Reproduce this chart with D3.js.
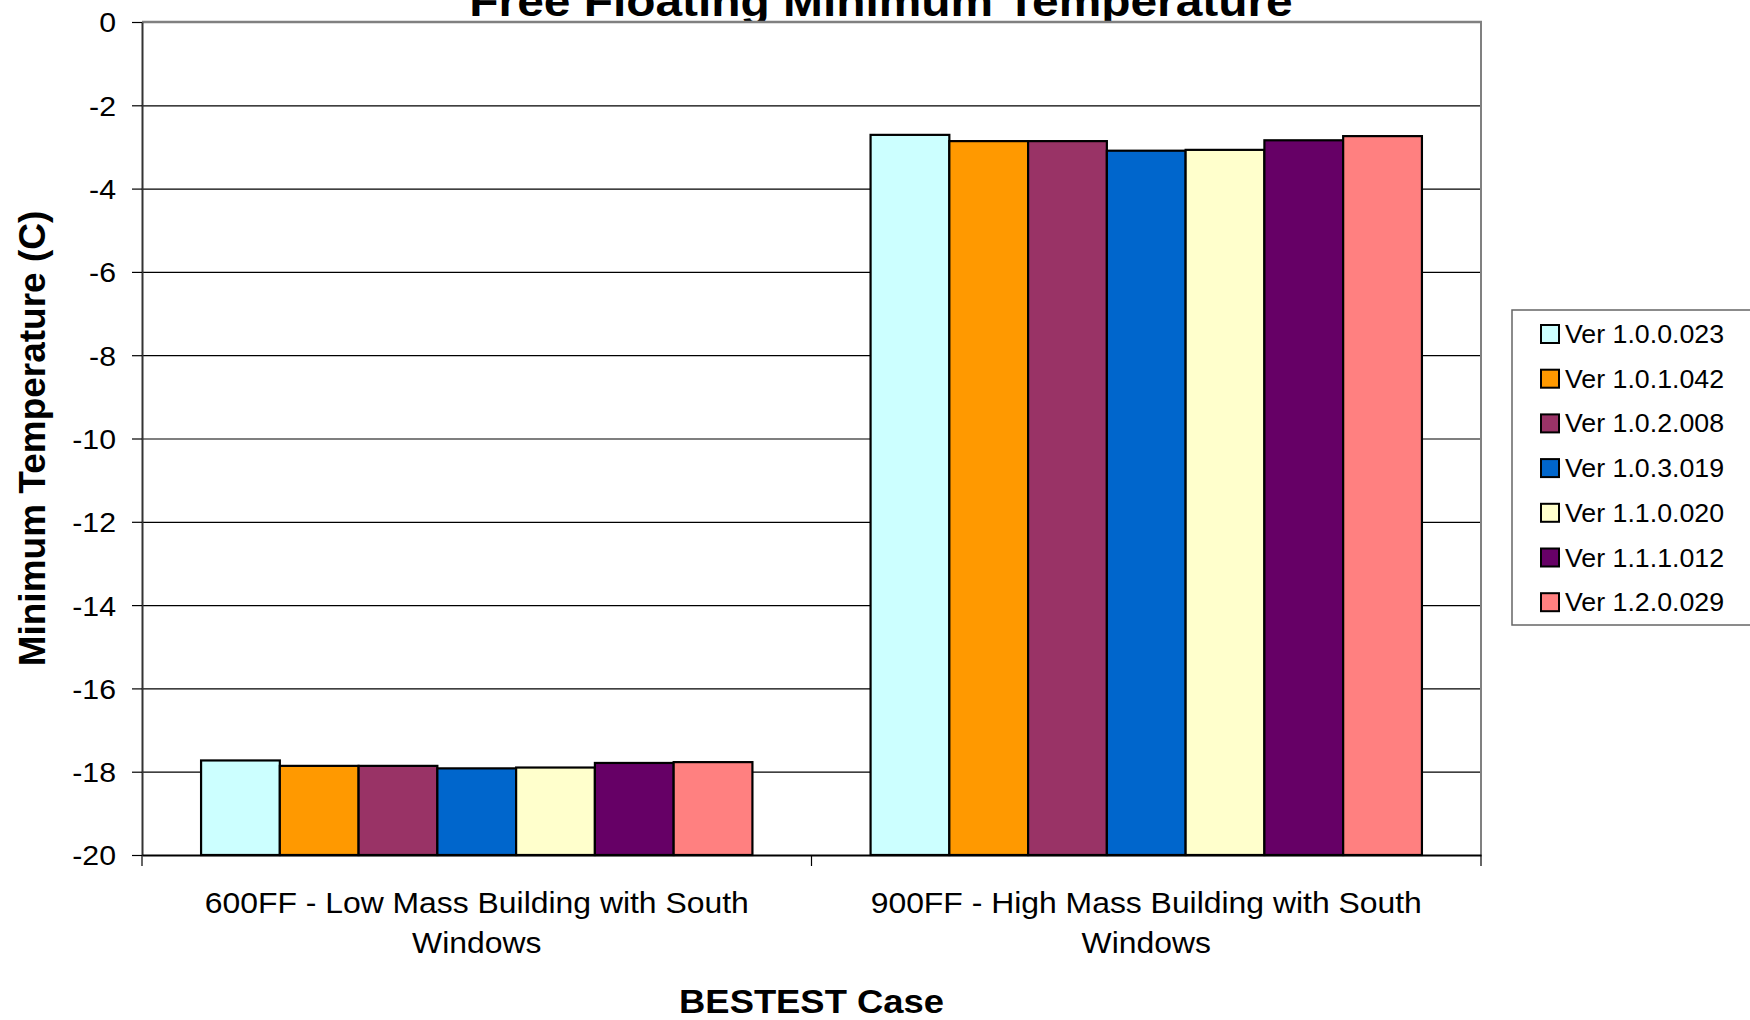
<!DOCTYPE html>
<html>
<head>
<meta charset="utf-8">
<script src="https://cdn.jsdelivr.net/npm/d3@7"></script>
<style>
  html, body { margin: 0; padding: 0; background: #fff; }
  svg { display: block; font-family: "Liberation Sans", Arial, sans-serif; }
</style>
</head>
<body>
<svg id="chart" width="1750" height="1020"></svg>
<script>
const titleText = "Free Floating Minimum Temperature";
const xTitle = "BESTEST Case";
const yTitle = "Minimum Temperature (C)";
const categories = ["600FF", "900FF"];
const categoryLabels = [
  ["600FF - Low Mass Building with South", "Windows"],
  ["900FF - High Mass Building with South", "Windows"]
];
const series = ["Ver 1.0.0.023", "Ver 1.0.1.042", "Ver 1.0.2.008", "Ver 1.0.3.019", "Ver 1.1.0.020", "Ver 1.1.1.012", "Ver 1.2.0.029"];
const colors = ["#CCFFFF", "#FF9900", "#993366", "#0066CC", "#FFFFCC", "#660066", "#FF8080"];
const values600FF = [-17.73, -17.86, -17.86, -17.92, -17.90, -17.79, -17.77];
const values900FF = [-2.71, -2.86, -2.86, -3.09, -3.07, -2.84, -2.74];
const yTicks = [0, -2, -4, -6, -8, -10, -12, -14, -16, -18, -20];

const valuesByCat = { "600FF": values600FF, "900FF": values900FF };

const svg = d3.select("#chart");
const L = 142, R = 1481, T = 22, B = 855;

const x = d3.scaleBand().domain(categories).range([L, R]).paddingInner(0).paddingOuter(0);
const xs = d3.scaleBand().domain(series).range([0, x.bandwidth()]).paddingInner(0).paddingOuter(0.75);
const y = d3.scaleLinear().domain([-20, 0]).range([B, T]);

function stretchedText(parent, tx, ty, sx, txt, opts) {
  const g = parent.append("g").attr("transform", `translate(${tx},${ty}) scale(${sx},1)`);
  const t = g.append("text").attr("x", 0).attr("y", 0)
    .attr("text-anchor", opts.anchor || "middle")
    .attr("font-size", opts.size)
    .attr("font-weight", opts.weight || "normal")
    .attr("fill", "#000")
    .text(txt);
  return t;
}

// chart title (drawn first; the plot area covers its lower part as in the original)
stretchedText(svg, 881, 16, 1.14, titleText, { size: 42, weight: "bold" });

// plot area fill
svg.append("rect").attr("x", L).attr("y", T - 1).attr("width", R - L).attr("height", B - T + 1)
  .attr("fill", "#fff");

// gridlines
svg.append("g").selectAll("line").data(yTicks.filter(d => d !== 0 && d !== -20)).join("line")
  .attr("x1", L).attr("x2", R).attr("y1", d => y(d) + 0.5).attr("y2", d => y(d) + 0.5)
  .attr("stroke", "#000").attr("stroke-width", 1.2);

// plot area border top/right (gray)
svg.append("line").attr("x1", L).attr("x2", R + 1).attr("y1", y(0)).attr("y2", y(0))
  .attr("stroke", "#808080").attr("stroke-width", 2.5);
svg.append("line").attr("x1", R).attr("x2", R).attr("y1", y(0)).attr("y2", B)
  .attr("stroke", "#808080").attr("stroke-width", 2);

// bars
const barG = svg.append("g");
categories.forEach(cat => {
  barG.append("g").selectAll("rect").data(valuesByCat[cat]).join("rect")
    .attr("x", (d, i) => x(cat) + xs(series[i]))
    .attr("width", xs.bandwidth())
    .attr("y", d => y(d))
    .attr("height", d => y(-20) - y(d))
    .attr("fill", (d, i) => colors[i])
    .attr("stroke", "#000").attr("stroke-width", 2.2);
});

// y axis
const yAxis = svg.append("g").attr("transform", `translate(${L},0)`)
  .call(d3.axisLeft(y).tickValues(yTicks).tickSize(10).tickSizeOuter(0).tickFormat(d3.format("d")));
yAxis.select(".domain").attr("stroke", "#333").attr("stroke-width", 2);
yAxis.selectAll(".tick line").attr("stroke", "#000").attr("stroke-width", 1.2);
yAxis.selectAll(".tick text")
  .attr("font-size", 27.5).attr("fill", "#000")
  .attr("font-family", "'Liberation Sans', Arial, sans-serif")
  .attr("x", -26 / 1.1).attr("dy", "0.36em")
  .attr("transform", "scale(1.1,1)")
  .text(d => d === 0 ? "0" : String(d).replace("\u2212", "-"));

// x axis
const xAxis = svg.append("g").attr("transform", `translate(0,${B})`)
  .call(d3.axisBottom(x).tickSize(0).tickFormat(""));
xAxis.select(".domain").attr("stroke", "#000").attr("stroke-width", 2.2);
const bounds = [x(categories[0]), x(categories[1]), x(categories[1]) + x.bandwidth()];
svg.append("g").selectAll("line").data(bounds).join("line")
  .attr("x1", d => d).attr("x2", d => d).attr("y1", B).attr("y2", B + 11)
  .attr("stroke", "#000").attr("stroke-width", 1.2);

// category labels
categories.forEach((cat, ci) => {
  const cx = x(cat) + x.bandwidth() / 2;
  categoryLabels[ci].forEach((line, li) => {
    stretchedText(svg, cx, 913 + li * 40, 1.1, line, { size: 29 });
  });
});

// axis titles
stretchedText(svg, (L + R) / 2, 1013, 1.07, xTitle, { size: 34, weight: "bold" });
svg.append("text")
  .attr("transform", `translate(45,${(T + B) / 2}) rotate(-90)`)
  .attr("text-anchor", "middle").attr("font-size", 37).attr("font-weight", "bold")
  .attr("fill", "#000").text(yTitle);

// legend
const lg = svg.append("g");
lg.append("rect").attr("x", 1512).attr("y", 310).attr("width", 260).attr("height", 315)
  .attr("fill", "#fff").attr("stroke", "#666").attr("stroke-width", 1.5);
series.forEach((s, i) => {
  const cy = 334 + i * 44.7;
  lg.append("rect").attr("x", 1541).attr("y", cy - 9).attr("width", 18).attr("height", 18)
    .attr("fill", colors[i]).attr("stroke", "#000").attr("stroke-width", 2);
  stretchedText(lg, 1565, cy + 9, 1.07, s, { size: 25, anchor: "start" });
});
</script>
</body>
</html>
